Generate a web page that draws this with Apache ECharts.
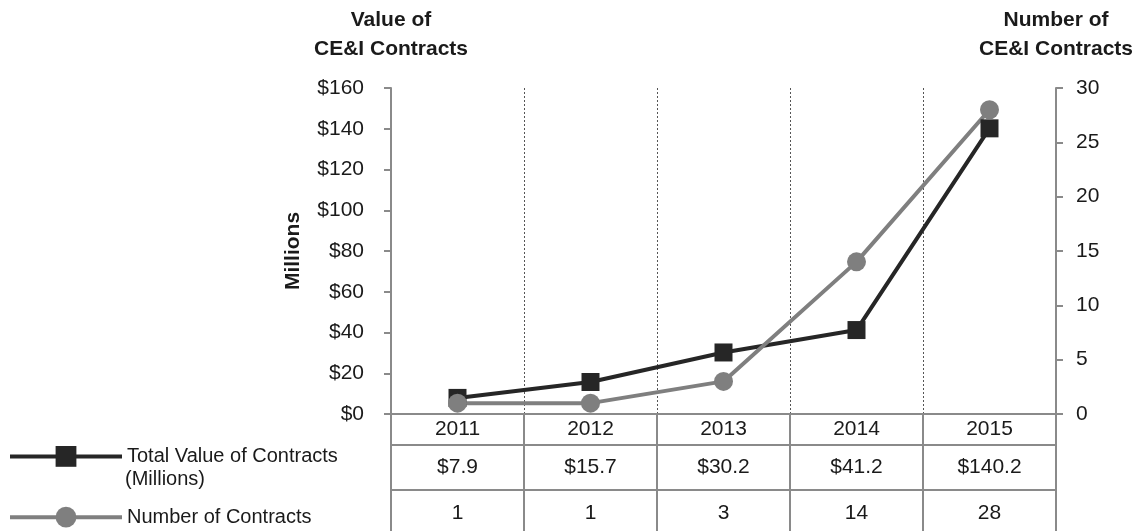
<!DOCTYPE html>
<html>
<head>
<meta charset="utf-8">
<script src="https://cdn.jsdelivr.net/npm/echarts@6/dist/echarts.min.js"></script>
<style>
  html, body { margin: 0; padding: 0; background: #fff; }
  #main { width: 1141px; height: 531px; }
</style>
</head>
<body>
<div id="main"></div>
<script>
// data
const years = ["2011", "2012", "2013", "2014", "2015"];
const totalValue = [7.9, 15.7, 30.2, 41.2, 140.2]; // millions
const contractCount = [1, 1, 3, 14, 28];

const FONT = "Liberation Sans, Arial, sans-serif";
const axisGray = "#8a8a8a";

const chart = echarts.init(document.getElementById("main"));

// table rows under the plot are drawn as extra category axes
const valueRow = totalValue.map((v) => "$" + v.toFixed(1));
const countRow = contractCount.map((v) => String(v));

const option = {
  animation: false,
  textStyle: { fontFamily: FONT },
  grid: { left: 391, right: 85, top: 88, bottom: 117 },
  legend: {
    orient: "vertical",
    left: 8,
    top: 446,
    padding: 0,
    itemWidth: 112,
    itemHeight: 26,
    itemGap: 40,
    selectedMode: false,
    lineStyle: { width: 4 },
    textStyle: { fontSize: 20, color: "#1a1a1a", fontFamily: FONT },
    data: ["Total Value of Contracts", "Number of Contracts"],
  },
  xAxis: [
    {
      type: "category",
      data: years,
      position: "bottom",
      axisLine: { onZero: false, lineStyle: { color: axisGray, width: 2 } },
      axisTick: { show: true, interval: 0, length: 118, lineStyle: { color: axisGray, width: 2 } },
      axisLabel: { fontSize: 21, color: "#1a1a1a", margin: 5, lineHeight: 21, interval: 0 },
      splitLine: { show: true, interval: 0, lineStyle: { color: "#555", width: 1, type: [2, 2] } },
    },
    {
      type: "category",
      data: valueRow,
      position: "bottom",
      offset: 31,
      axisLine: { onZero: false, lineStyle: { color: axisGray, width: 2 } },
      axisTick: { show: false },
      axisLabel: { fontSize: 21, color: "#1a1a1a", margin: 12, lineHeight: 21, interval: 0 },
    },
    {
      type: "category",
      data: countRow,
      position: "bottom",
      offset: 76,
      axisLine: { onZero: false, lineStyle: { color: axisGray, width: 2 } },
      axisTick: { show: false },
      axisLabel: { fontSize: 21, color: "#1a1a1a", margin: 13, lineHeight: 21, interval: 0 },
    },
  ],
  yAxis: [
    {
      type: "value",
      position: "left",
      min: 0,
      max: 160,
      interval: 20,
      name: "Value of\nCE&I Contracts",
      nameLocation: "end",
      nameGap: 24,
      nameTextStyle: { fontSize: 21, fontWeight: "bold", color: "#1a1a1a", lineHeight: 29, align: "center" },
      axisLine: { show: true, lineStyle: { color: axisGray, width: 2 } },
      axisTick: { show: true, length: 7, lineStyle: { color: axisGray, width: 2 } },
      axisLabel: { fontSize: 21, color: "#1a1a1a", margin: 27, formatter: "${value}" },
      splitLine: { show: false },
    },
    {
      type: "value",
      position: "right",
      min: 0,
      max: 30,
      interval: 5,
      name: "Number of\nCE&I Contracts",
      nameLocation: "end",
      nameGap: 24,
      nameTextStyle: { fontSize: 21, fontWeight: "bold", color: "#1a1a1a", lineHeight: 29, align: "center" },
      axisLine: { show: true, lineStyle: { color: axisGray, width: 2 } },
      axisTick: { show: true, length: 7, lineStyle: { color: axisGray, width: 2 } },
      axisLabel: { fontSize: 21, color: "#1a1a1a", margin: 20 },
      splitLine: { show: false },
    },
  ],
  graphic: [
    {
      type: "text",
      x: 293,
      y: 251,
      rotation: Math.PI / 2,
      style: { text: "Millions", font: "bold 21px " + FONT, fill: "#1a1a1a", align: "center", verticalAlign: "middle" },
    },
    {
      type: "text",
      x: 125,
      y: 479,
      style: { text: "(Millions)", font: "20px " + FONT, fill: "#1a1a1a", align: "left", verticalAlign: "middle" },
    },
  ],
  series: [
    {
      name: "Total Value of Contracts",
      type: "line",
      yAxisIndex: 0,
      data: totalValue,
      symbol: "rect",
      symbolSize: 18,
      lineStyle: { color: "#262626", width: 4 },
      itemStyle: { color: "#262626" },
    },
    {
      name: "Number of Contracts",
      type: "line",
      yAxisIndex: 1,
      data: contractCount,
      symbol: "circle",
      symbolSize: 19,
      lineStyle: { color: "#7f7f7f", width: 4 },
      itemStyle: { color: "#7f7f7f" },
    },
  ],
};

chart.setOption(option);
</script>
</body>
</html>
